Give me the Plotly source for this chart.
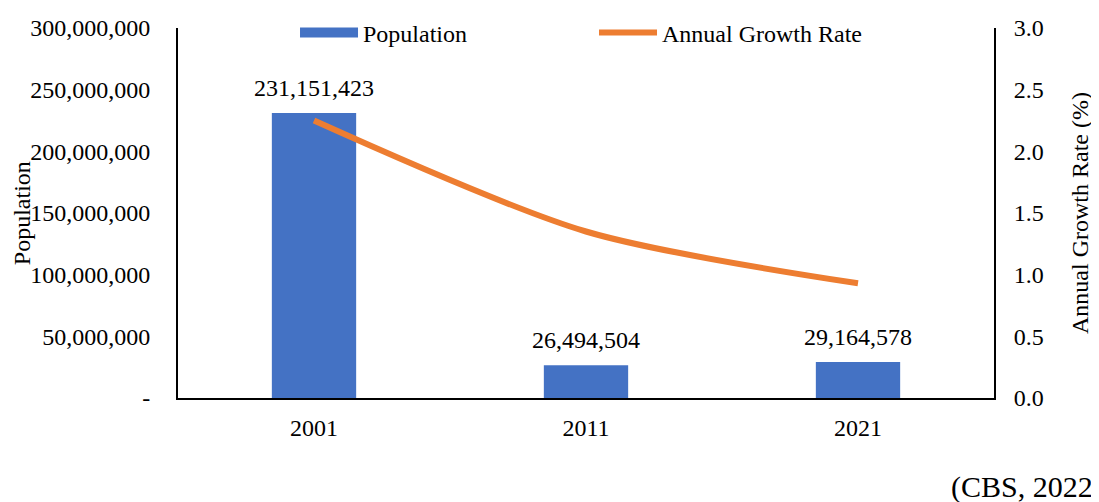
import plotly.graph_objects as go

years = ["2001", "2011", "2021"]
population = [231151423, 26494504, 29164578]
growth_rate = [2.25, 1.35, 0.93]
pop_labels = ["231,151,423", "26,494,504", "29,164,578"]
left_tickvals = [0, 50000000, 100000000, 150000000, 200000000, 250000000, 300000000]
left_ticktext = ["-", "50,000,000", "100,000,000", "150,000,000", "200,000,000", "250,000,000", "300,000,000"]
right_tickvals = [0, 0.5, 1.0, 1.5, 2.0, 2.5, 3.0]
right_ticktext = ["0.0", "0.5", "1.0", "1.5", "2.0", "2.5", "3.0"]

FONT = "Liberation Serif, Times New Roman, serif"
BLUE = "#4472C4"
ORANGE = "#ED7D31"

fig = go.Figure()
fig.add_trace(go.Bar(
    x=years, y=population, name="Population", showlegend=False,
    marker=dict(color=BLUE, line=dict(width=0)),
    width=0.31,
))
# legend-only entry drawn as a wide swatch for the bar series
fig.add_trace(go.Scatter(
    x=[None], y=[None], name="Population", mode="lines",
    line=dict(color=BLUE, width=12), showlegend=True,
))
fig.add_trace(go.Scatter(
    x=years, y=growth_rate, name="Annual Growth Rate", yaxis="y2",
    mode="lines", line=dict(color=ORANGE, width=6, shape="spline", smoothing=0.8),
))

# data labels above bars (category index positions on the x axis)
annotations = [
    dict(x=i, y=val, text=lbl, xref="x", yref="y", showarrow=False, yanchor="middle",
         yshift=25, font=dict(size=24, color="black"))
    for i, (val, lbl) in enumerate(zip(population, pop_labels))
]
annotations += [
    dict(text="Population", xref="paper", yref="paper", x=-0.191, y=0.5, textangle=-90,
         showarrow=False, font=dict(size=24), xanchor="center", yanchor="middle"),
    dict(text="Annual Growth Rate (%)", xref="paper", yref="paper", x=1.1054, y=0.5, textangle=-90,
         showarrow=False, font=dict(size=24), xanchor="center", yanchor="middle"),
    dict(text="(CBS, 2022", xref="paper", yref="paper", x=1.1235, y=-0.2405, xanchor="right",
         yanchor="middle", showarrow=False, font=dict(size=30)),
]

fig.update_layout(
    width=1091, height=494,
    margin=dict(l=170, r=105, t=20, b=104, autoexpand=False),
    paper_bgcolor="white", plot_bgcolor="white",
    font=dict(family=FONT, size=24, color="black"),
    showlegend=True,
    legend=dict(orientation="h", x=0.1434, y=0.9865, xanchor="left", yanchor="middle",
                entrywidth=226, entrywidthmode="pixels", itemwidth=58,
                font=dict(size=24, family=FONT), bgcolor="rgba(0,0,0,0)"),
    xaxis=dict(type="category", range=[-0.5, 2.5], showline=True, linecolor="black", linewidth=2,
               showgrid=False, ticks="", ticklabelstandoff=7, tickfont=dict(size=24)),
    yaxis=dict(range=[0, 300000000], tickvals=left_tickvals, ticktext=left_ticktext,
               showline=True, linecolor="black", linewidth=2, showgrid=False, ticks="",
               zeroline=False, ticklabelstandoff=21, tickfont=dict(size=24)),
    yaxis2=dict(range=[0, 3.0], tickvals=right_tickvals, ticktext=right_ticktext, overlaying="y",
                side="right", showline=True, linecolor="black", linewidth=2, showgrid=False,
                ticks="", zeroline=False, ticklabelstandoff=13, tickfont=dict(size=24)),
    annotations=annotations,
)

fig.write_html("out.html")
